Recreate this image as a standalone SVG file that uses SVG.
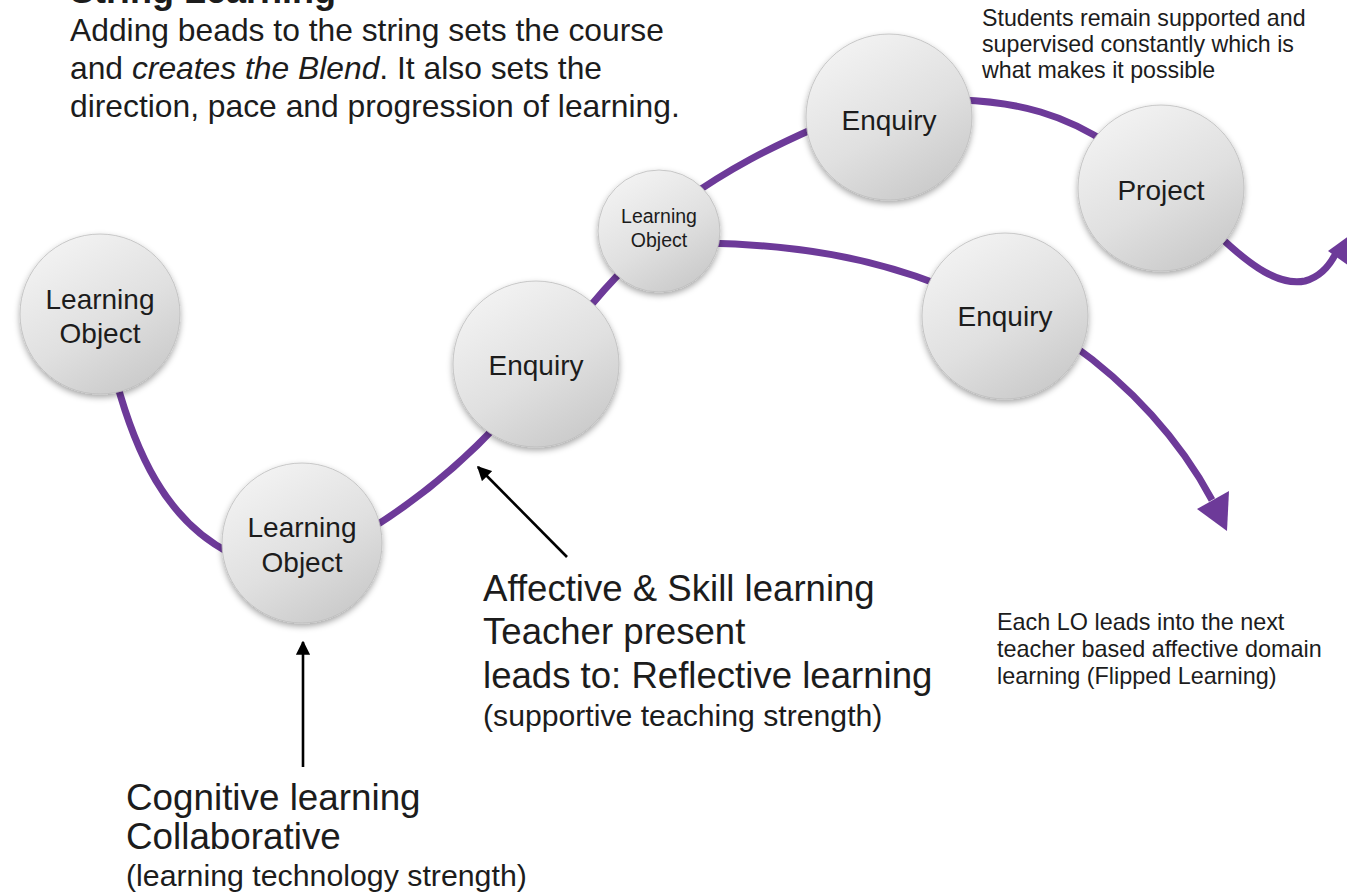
<svg xmlns="http://www.w3.org/2000/svg" width="1347" height="895" viewBox="0 0 1347 895">
<defs>
<linearGradient id="bead" x1="0.2" y1="0" x2="0.8" y2="1">
<stop offset="0" stop-color="#f4f4f4"/>
<stop offset="0.55" stop-color="#e0e0e0"/>
<stop offset="1" stop-color="#c8c8c8"/>
</linearGradient>
<filter id="sh" x="-20%" y="-20%" width="140%" height="145%">
<feDropShadow dx="0" dy="3" stdDeviation="3" flood-color="#000" flood-opacity="0.35"/>
</filter>
<marker id="ah" viewBox="0 0 10 10" refX="9" refY="5" markerWidth="5.5" markerHeight="5.5" orient="auto" markerUnits="strokeWidth">
<path d="M0,0 L10,5 L0,10 z" fill="#000"/>
</marker>
</defs>
<style>
.t{font-family:"Liberation Sans",Arial,Helvetica,sans-serif;fill:#1c1c1c}
.s{fill:none;stroke:#6d3a99;stroke-width:7;stroke-linecap:butt}
.h{fill:#6d3a99}
.b{fill:url(#bead);stroke:#bdbdbd;stroke-width:0.8;filter:url(#sh)}
.bl{font-family:"Liberation Sans",Arial,Helvetica,sans-serif;fill:#1c1c1c;text-anchor:middle}
.k{stroke:#000;stroke-width:2.6;fill:none;marker-end:url(#ah)}
</style>
<rect width="1347" height="895" fill="#fff"/>

<g id="texts">
<text class="t" x="70" y="3" font-size="36" font-weight="bold">String Learning</text>
<text class="t" x="70" y="41" font-size="31.8">Adding beads to the string sets the course</text>
<text class="t" x="70" y="79" font-size="31.8">and <tspan font-style="italic">creates the Blend</tspan>. It also sets the</text>
<text class="t" x="70" y="117" font-size="31.8">direction, pace and progression of learning.</text>
<text class="t" x="982" y="26" font-size="23.2">Students remain supported and</text>
<text class="t" x="982" y="52" font-size="23.2">supervised constantly which is</text>
<text class="t" x="982" y="78" font-size="23.2">what makes it possible</text>
<text class="t" x="997" y="630" font-size="23.4">Each LO leads into the next</text>
<text class="t" x="997" y="657" font-size="23.4">teacher based affective domain</text>
<text class="t" x="997" y="684" font-size="23.4">learning (Flipped Learning)</text>
<text class="t" x="483" y="601" font-size="36.6">Affective &amp; Skill learning</text>
<text class="t" x="483" y="644" font-size="36.6">Teacher present</text>
<text class="t" x="483" y="688" font-size="36.6">leads to: Reflective learning</text>
<text class="t" x="483" y="726" font-size="30.2">(supportive teaching strength)</text>
<text class="t" x="126" y="810" font-size="36.8">Cognitive learning</text>
<text class="t" x="126" y="849" font-size="36.8">Collaborative</text>
<text class="t" x="126" y="886" font-size="30.3">(learning technology strength)</text>
</g>

<g id="connectors">
<path class="s" d="M116,380 C135,450 165,520 230,553"/>
<path class="s" d="M372,528 C420,498 460,465 500,422"/>
<path class="s" d="M580,318 C595,300 610,283 630,262"/>
<path class="s" d="M685,200 C730,168 770,148 815,128"/>
<path class="s" d="M960,100 C1020,102 1065,115 1110,145"/>
<path class="s" d="M1215,232 C1252,268 1280,286 1305,281 C1320,277 1330,265 1336,253"/>
<polygon class="h" points="1328,251 1352,268 1360,228"/>
<path class="s" d="M705,243 C800,245 870,258 940,285"/>
<path class="s" d="M1070,343 C1130,385 1180,440 1212,500"/>
<polygon class="h" points="1197,509 1229,491 1227,531"/>
<line class="k" x1="567" y1="557" x2="478" y2="467"/>
<line class="k" x1="303" y1="767" x2="303" y2="642"/>
</g>

<g id="bead-lo1">
<circle class="b" cx="100" cy="314" r="80"/>
<text class="bl" x="100" y="309" font-size="28">Learning</text>
<text class="bl" x="100" y="343" font-size="28">Object</text>
</g>
<g id="bead-lo2">
<circle class="b" cx="302" cy="543" r="80"/>
<text class="bl" x="302" y="537" font-size="28">Learning</text>
<text class="bl" x="302" y="572" font-size="28">Object</text>
</g>
<g id="bead-enq1">
<circle class="b" cx="536" cy="364" r="83"/>
<text class="bl" x="536" y="375" font-size="28">Enquiry</text>
</g>
<g id="bead-lo3">
<circle class="b" cx="659" cy="231" r="61"/>
<text class="bl" x="659" y="223" font-size="19.5">Learning</text>
<text class="bl" x="659" y="247" font-size="19.5">Object</text>
</g>
<g id="bead-enq2">
<circle class="b" cx="889" cy="117" r="83"/>
<text class="bl" x="889" y="130" font-size="28">Enquiry</text>
</g>
<g id="bead-project">
<circle class="b" cx="1161" cy="188" r="83"/>
<text class="bl" x="1161" y="200" font-size="28">Project</text>
</g>
<g id="bead-enq3">
<circle class="b" cx="1005" cy="316" r="83"/>
<text class="bl" x="1005" y="326" font-size="28">Enquiry</text>
</g>
</svg>
